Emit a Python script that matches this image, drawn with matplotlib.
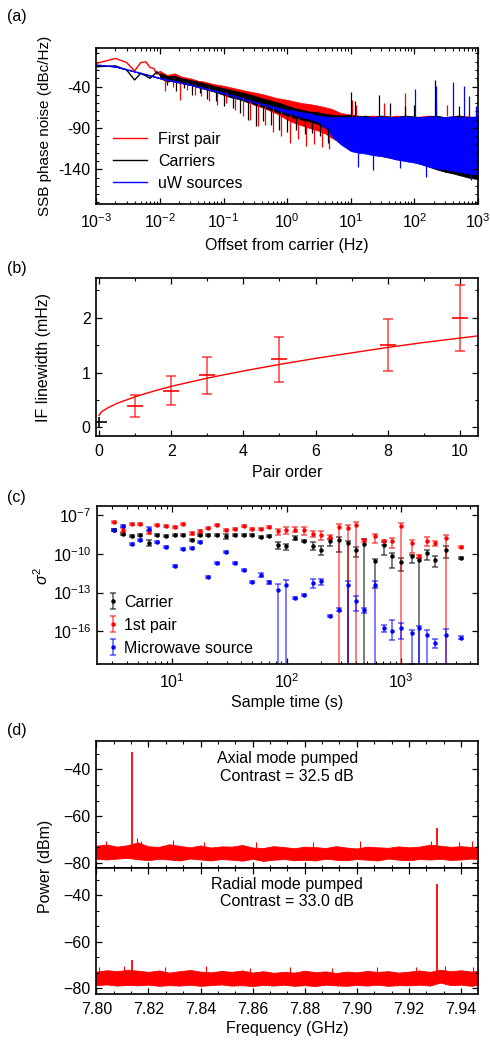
import numpy as np
import matplotlib
matplotlib.use("Agg")
import matplotlib.pyplot as plt
from matplotlib.ticker import AutoMinorLocator, MultipleLocator, NullLocator, LogLocator
from matplotlib.lines import Line2D

plt.rcParams['font.family'] = ['Liberation Sans', 'DejaVu Sans']
plt.rcParams['font.size'] = 11.5
plt.rcParams['mathtext.fontset'] = 'custom'
plt.rcParams['mathtext.rm'] = 'Liberation Sans'
plt.rcParams['mathtext.it'] = 'Liberation Sans:italic'
plt.rcParams['mathtext.bf'] = 'Liberation Sans:bold'
plt.rcParams['xtick.direction'] = 'in'
plt.rcParams['ytick.direction'] = 'in'
plt.rcParams['xtick.top'] = True
plt.rcParams['ytick.right'] = True
plt.rcParams['xtick.major.size'] = 4.5
plt.rcParams['ytick.major.size'] = 4.5
plt.rcParams['xtick.minor.size'] = 2.5
plt.rcParams['ytick.minor.size'] = 2.5
plt.rcParams['xtick.major.width'] = 0.9
plt.rcParams['ytick.major.width'] = 0.9
plt.rcParams['xtick.minor.width'] = 0.8
plt.rcParams['ytick.minor.width'] = 0.8
plt.rcParams['xtick.major.pad'] = 6
plt.rcParams['ytick.major.pad'] = 4
plt.rcParams['axes.linewidth'] = 1.2

# ---------------- (a) phase noise ----------------
lf_freq = [0.001, 0.002, 0.003, 0.004, 0.005, 0.006, 0.007, 0.008, 0.009, 0.010]
red_lf = [-12, -6, -11, -21, -11, -10, -17, -18, -25, -22]
black_lf = [-16, -15, -20, -32, -24, -27, -30, -26, -22, -26]

band_freq = [0.01, 0.013, 0.017, 0.022, 0.03, 0.04, 0.05, 0.07, 0.1, 0.13, 0.17, 0.22,
             0.3, 0.4, 0.5, 0.7, 1, 1.3, 1.7, 2.2, 3, 4, 5, 7, 10, 13, 17, 22,
             30, 40, 50, 70, 100, 130, 170, 220, 300, 400, 500, 700, 1000]
red_hi = [-21, -26, -24, -28, -30, -33, -34, -37, -39, -41, -43, -45,
          -47, -49, -51, -54, -56, -58, -60, -61, -63, -65, -67, -72, -74, -75, -76, -75,
          -76, -77, -75, -76, -77, -76, -75, -76, -77, -76, -75, -76, -77]
red_lo = [-30, -34, -33, -36, -37, -40, -41, -44, -47, -49, -52, -55,
          -62, -65, -68, -73, -80, -84, -87, -90, -93, -97, -102, -108, -114, -118, -120, -122,
          -124, -126, -127, -129, -131, -133, -135, -137, -139, -140, -141, -143, -144]
black_hi = [-24, -27, -27, -30, -32, -34, -36, -39, -42, -44, -46, -48,
            -51, -54, -56, -59, -63, -66, -68, -70, -71, -73, -74, -75, -74, -76, -75, -77,
            -75, -76, -77, -75, -76, -77, -76, -75, -77, -76, -75, -77, -76]
black_lo = [-30, -33, -34, -36, -38, -41, -43, -46, -50, -53, -55, -58,
            -61, -64, -67, -71, -75, -78, -80, -82, -85, -90, -98, -106, -112, -116, -118, -120,
            -122, -124, -126, -128, -131, -134, -137, -140, -143, -145, -147, -150, -152]

red_dip_f = [0.012, 0.016, 0.021, 0.027, 0.035, 0.045, 0.06, 0.08, 0.11, 0.15, 0.2,
             0.26, 0.35, 0.45, 0.6, 0.8, 1.1, 1.5, 2.0, 2.6, 3.5, 4.5]
red_dip_lo = [-45, -40, -56, -44, -50, -52, -58, -62, -60, -68, -76,
              -80, -88, -86, -95, -100, -108, -104, -112, -110, -113, -115]
red_dip_top = [-30, -32, -34, -35, -37, -39, -41, -44, -47, -50, -53,
               -56, -59, -62, -65, -69, -74, -78, -82, -86, -90, -95]
black_dip_f = [0.013, 0.018, 0.024, 0.032, 0.042, 0.055, 0.075, 0.1, 0.14, 0.18, 0.24,
               0.32, 0.42, 0.55, 0.75, 1.0, 1.4, 1.9, 2.5, 3.3, 4.4]
black_dip_lo = [-38, -45, -42, -50, -48, -55, -58, -64, -66, -72, -80,
                -88, -82, -86, -92, -95, -92, -97, -96, -100, -108]
black_dip_top = [-32, -34, -35, -38, -40, -43, -46, -50, -53, -55, -58,
                 -61, -64, -67, -71, -75, -78, -80, -82, -85, -90]

blue_freq = [0.001, 0.002, 0.004, 0.01, 0.03, 0.1, 0.3, 0.5, 0.7, 1, 1.3, 1.7,
             2.2, 3, 4, 5, 7, 10, 13, 17, 22, 30, 40, 50, 70, 100, 130, 170,
             220, 300, 400, 500, 700, 1000]
blue_hi = [-14, -16, -22, -30, -38, -48, -59, -63, -66, -69, -70, -72,
           -73, -76, -77, -78, -78, -78, -77, -78, -78, -77, -78, -78, -77, -78, -78, -77,
           -78, -78, -77, -78, -78, -77]
blue_lo = [-14, -16, -22, -30, -38, -48, -59, -64, -68, -72, -74, -77,
           -79, -82, -90, -100, -110, -118, -120, -121, -123, -124, -126, -128, -130, -132, -134, -137,
           -139, -140, -142, -143, -145, -146]

red_spk_f = [10.5, 12, 33, 70, 215, 330]
red_spk_top = [-56, -62, -60, -48, -56, -62]
black_spk_f = [10.2, 11.5, 28, 42, 70, 100, 212, 500]
black_spk_top = [-46, -58, -50, -60, -64, -62, -32, -64]
blue_spk_f = [104, 215, 403, 598, 735, 938]
blue_spk_top = [-43, -39, -35, -39, -52, -64]
blue_dip_f = [12.9, 22, 60, 155, 785]
blue_dip_lo = [-137, -141, -138, -149, -153]

# ---------------- (b) linewidth ----------------
pair_order = [1, 2, 3, 5, 8, 10]
if_lw = [0.40, 0.67, 0.95, 1.24, 1.50, 1.99]
if_err = [0.20, 0.26, 0.34, 0.41, 0.47, 0.60]
carrier_order = [0]
carrier_lw = [0.10]
carrier_err = [0.10]
fit_x = [0, 0.05, 0.1, 0.25, 0.5, 0.75, 1, 1.5, 2, 3, 4, 5, 6, 7, 8, 9, 10, 10.5]
fit_y = [0.22, 0.27, 0.30, 0.36, 0.44, 0.50, 0.56, 0.66, 0.75, 0.90, 1.03, 1.15,
         1.26, 1.36, 1.46, 1.55, 1.63, 1.67]

# ---------------- (c) Allan variance (log10 values) ----------------
tau = [3.11, 3.71, 4.45, 5.25, 6.21, 7.35, 8.81, 10.5, 12.3, 14.9, 17.6, 20.7, 24.5, 29.6,
       35.5, 42.0, 49.7, 59.5, 70.3, 83.7, 99.5, 119, 142, 169, 199, 237, 286, 342, 405,
       478, 589, 710, 839, 1000, 1256, 1436, 1677, 1982, 2488, 3365]
carrier_log = [-8.14, -8.45, -8.65, -8.55, -9.17, -8.55, -8.60, -8.57, -8.55, -8.96,
               -8.57, -8.57, -8.57, -8.65, -8.57, -8.52, -8.57, -8.73, -8.65, -9.30,
               -9.43, -8.78, -9.04, -9.38, -9.69, -9.04, -8.91, -9.20, -9.69, -9.22,
               -10.59, -9.30, -10.20, -10.67, -10.20, -10.46, -9.95, -10.51, -9.69, -10.33]
carrier_errs = {4: (-9.38, -8.91), 13: (-8.85, -8.45), 19: (-9.64, -9.12), 20: (-9.69, -9.22),
                21: (-8.96, -8.65), 23: (-9.69, -9.12), 24: (-10.08, -9.43), 25: (-9.38, -8.86),
                26: (-9.89, -8.71), 27: (-30, -9.0), 28: (-10.26, -9.48), 29: (-30, -8.86),
                30: (-12.66, -10.41), 31: (-10.08, -9.12), 32: (-11.1, -9.95), 33: (-11.36, -10.33),
                34: (-10.72, -10.08), 35: (-30, -10.33), 36: (-10.46, -9.69), 37: (-11.03, -10.15),
                38: (-10.33, -9.38)}
pair_log = [-7.57, -8.16, -7.70, -7.70, -8.32, -7.78, -7.85, -7.93, -7.70, -8.42,
            -8.26, -8.01, -7.75, -8.19, -8.06, -7.83, -8.06, -8.09, -7.95, -8.26,
            -8.14, -8.14, -8.19, -8.47, -8.53, -8.71, -7.93, -8.01, -7.75, -8.96,
            -8.65, -9.04, -9.04, -7.88, -9.17, -10.20, -9.04, -9.17, -8.78, -9.50]
pair_errs = {1: (-8.31, -8.01), 4: (-8.47, -8.17), 9: (-8.54, -8.30), 10: (-8.38, -8.14),
             19: (-8.53, -8.09), 20: (-8.45, -7.93), 21: (-8.35, -7.93), 22: (-8.53, -7.93),
             23: (-8.71, -8.27), 24: (-8.97, -8.27), 25: (-8.84, -8.58), 26: (-30, -7.67),
             27: (-30, -7.80), 28: (-30, -7.57), 29: (-9.12, -8.84), 30: (-9.20, -8.45),
             31: (-9.30, -8.91), 32: (-9.56, -8.78), 33: (-30, -7.62), 34: (-9.94, -8.91),
             35: (-10.33, -10.07), 36: (-9.43, -8.70), 37: (-9.43, -9.04), 38: (-30, -8.53)}
uw_log = [-8.15, -7.83, -9.27, -8.94, -8.11, -9.07, -9.46, -10.95, -9.66, -9.58,
          -9.07, -11.78, -10.74, -9.84, -10.74, -11.26, -12.17, -11.65, -12.22, -12.84,
          -12.40, -13.43, -13.22, -12.27, -12.14, -14.78, -14.34, -12.45, -13.64, -14.34,
          -12.40, -15.78, -15.94, -15.76, -16.15, -15.76, -16.28, -16.92, -16.28, -16.48]
uw_errs = {4: (-8.26, -7.96), 17: (-11.80, -11.50), 19: (-30, -12.37), 20: (-30, -12.0),
           23: (-12.66, -11.96), 24: (-12.40, -11.96), 26: (-14.46, -14.22), 27: (-30, -12.07),
           28: (-14.39, -13.30), 29: (-14.60, -14.16), 30: (-30, -12.10), 31: (-16.09, -15.50),
           32: (-16.67, -15.16), 33: (-16.60, -15.32), 34: (-18.5, -15.90), 35: (-30, -15.60),
           36: (-30, -15.90), 37: (-17.30, -16.60), 38: (-30, -15.80)}

# ---------------- (d) spectra ----------------
floor_freq = [7.800, 7.804, 7.808, 7.812, 7.816, 7.820, 7.824, 7.828, 7.832, 7.836,
              7.840, 7.844, 7.848, 7.852, 7.856, 7.860, 7.864, 7.868, 7.872, 7.876,
              7.880, 7.884, 7.888, 7.892, 7.896, 7.900, 7.904, 7.908, 7.912, 7.916,
              7.920, 7.924, 7.928, 7.932, 7.936, 7.940, 7.944, 7.9465]
axial_hi = [-72.6, -72.1, -73.0, -72.4, -71.2, -72.9, -73.1, -72.0, -72.7, -73.3,
            -72.5, -73.4, -72.9, -73.0, -72.3, -73.4, -73.6, -72.8, -73.2, -73.7,
            -73.0, -73.2, -73.6, -72.8, -73.4, -73.8, -73.0, -73.3, -73.5, -72.9,
            -73.3, -73.0, -72.2, -72.6, -73.1, -72.8, -73.2, -72.9]
axial_lo = [-78.2, -78.5, -78.1, -77.8, -78.4, -78.8, -78.2, -78.5, -78.9, -78.1,
            -78.5, -78.9, -78.3, -78.6, -79.0, -78.2, -79.1, -78.6, -78.3, -78.8,
            -78.6, -78.9, -78.2, -78.6, -78.8, -78.3, -78.6, -78.9, -78.1, -78.6,
            -78.8, -78.3, -78.5, -78.2, -78.7, -78.5, -78.1, -78.4]
radial_hi = [-72.8, -72.2, -72.6, -72.0, -72.4, -72.9, -72.3, -73.2, -72.6, -72.1,
             -72.8, -73.1, -72.5, -72.9, -72.3, -73.2, -72.6, -73.3, -72.9, -73.2,
             -72.4, -73.0, -72.7, -73.4, -72.8, -73.1, -72.5, -72.9, -72.6, -73.2,
             -72.8, -72.3, -72.9, -72.0, -72.6, -72.2, -72.8, -72.4]
radial_lo = [-78.6, -78.3, -78.8, -78.5, -78.7, -78.4, -78.9, -78.6, -78.8, -78.4,
             -78.9, -78.6, -78.3, -78.8, -78.6, -79.0, -78.5, -78.8, -78.4, -78.9,
             -78.6, -79.0, -78.4, -78.7, -78.9, -78.5, -78.8, -78.4, -78.9, -78.6,
             -78.7, -78.4, -78.8, -77.5, -78.6, -78.4, -78.9, -78.5]
axial_spk_f = [7.8038, 7.8155, 7.8172, 7.8295, 7.8415, 7.8612, 7.8833, 7.9012, 7.9285, 7.9393, 7.9441]
axial_spk_p = [-70.5, -69.5, -70.8, -70.2, -71.0, -71.2, -71.0, -70.8, -70.6, -71.0, -70.5]
radial_spk_f = [7.8012, 7.8105, 7.8265, 7.8420, 7.8588, 7.8745, 7.8906, 7.9077, 7.9226, 7.9338, 7.9447]
radial_spk_p = [-70.8, -70.5, -71.0, -70.2, -71.1, -70.9, -71.2, -70.6, -71.0, -70.4, -70.8]
axial_peak_f = [7.8136, 7.9307]
axial_peak_p = [-32.5, -65.0]
radial_peak_f = [7.8136, 7.9308]
radial_peak_p = [-68.0, -35.0]

W, H = 490, 1042
fig = plt.figure(figsize=(W / 100, H / 100), dpi=100)


def box(l, r, t, b):
    return [l / W, 1 - b / H, (r - l) / W, (b - t) / H]


# (a)
ax = fig.add_axes(box(96.3, 478, 47.7, 204))
ax.set_xscale('log')
ax.fill_between(band_freq, red_lo, red_hi, color='red', lw=0.5)
ax.plot(lf_freq, red_lf, color='red', lw=1)
ax.vlines(red_dip_f, red_dip_lo, red_dip_top, color='red', lw=0.9)
ax.vlines(red_spk_f, -76, red_spk_top, color='red', lw=0.9)
ax.fill_between(band_freq, black_lo, black_hi, color='black', lw=0.5)
ax.plot(lf_freq, black_lf, color='black', lw=1)
ax.vlines(black_dip_f, black_dip_lo, black_dip_top, color='black', lw=0.9)
ax.vlines(black_spk_f, -76, black_spk_top, color='black', lw=0.9)
ax.fill_between(blue_freq, blue_lo, blue_hi, color='blue', lw=0.5)
ax.plot(blue_freq, blue_hi, color='blue', lw=1)
ax.vlines(blue_spk_f, -78, blue_spk_top, color='blue', lw=0.9)
ax.vlines(blue_dip_f, blue_dip_lo, -120, color='blue', lw=0.9)
ax.set_xlim(1e-3, 1e3)
ax.set_ylim(-182, 7)
ax.set_yticks([-140, -90, -40])
ax.set_yticklabels(['-140', '-90', '-40'])
ax.yaxis.set_minor_locator(MultipleLocator(10))
ax.xaxis.set_major_locator(LogLocator(base=10, numticks=10))
ax.xaxis.set_minor_locator(LogLocator(base=10, subs=np.arange(2, 10), numticks=20))
ax.set_xlabel('Offset from carrier (Hz)', labelpad=5)
ax.set_ylabel('SSB phase noise (dBc/Hz)', fontsize=11)
ax.yaxis.set_label_coords(-0.115, 0.5)
handles = [Line2D([], [], color='red', lw=1), Line2D([], [], color='black', lw=1),
           Line2D([], [], color='blue', lw=1)]
ax.legend(handles, ['First pair', 'Carriers', 'uW sources'], loc='lower left',
          bbox_to_anchor=(0.006, -0.008), frameon=False, handlelength=2.1,
          handletextpad=0.75, labelspacing=0.45)

# (b)
ax = fig.add_axes(box(96.3, 478, 278.3, 435.7))
ax.plot(fit_x, fit_y, color='red', lw=1)
ax.errorbar(pair_order, if_lw, yerr=if_err, fmt='_', color='red', ms=12, mew=1.2,
            ecolor=(1, 0, 0, 0.7), elinewidth=1.2, capsize=3.5, capthick=1.2)
ax.errorbar(carrier_order, carrier_lw, yerr=carrier_err, fmt='_', color='black', ms=12,
            mew=1.2, ecolor='black', elinewidth=1.2, capsize=0)
ax.set_xlim(-0.075, 10.5)
ax.set_ylim(-0.15, 2.72)
ax.xaxis.set_major_locator(MultipleLocator(2))
ax.xaxis.set_minor_locator(MultipleLocator(1))
ax.yaxis.set_major_locator(MultipleLocator(1))
ax.yaxis.set_minor_locator(MultipleLocator(0.5))
ax.set_xlabel('Pair order', labelpad=4)
ax.set_ylabel('IF linewidth (mHz)')
ax.yaxis.set_label_coords(-0.119, 0.5)

# (c)
ax = fig.add_axes(box(97, 478, 506, 664))
ax.set_xscale('log')
ax.set_yscale('log')
series = [(carrier_log, carrier_errs, 'black', 'Carrier'),
          (pair_log, pair_errs, 'red', '1st pair'),
          (uw_log, uw_errs, 'blue', 'Microwave source')]
for vals, errs, col, lab in series:
    y = 10.0 ** np.array(vals)
    lo = np.array([errs.get(i, (v - 0.08, v + 0.08))[0] for i, v in enumerate(vals)])
    hi = np.array([errs.get(i, (v - 0.08, v + 0.08))[1] for i, v in enumerate(vals)])
    yerr = [y - 10.0 ** lo, 10.0 ** hi - y]
    ec = matplotlib.colors.to_rgba(col, 0.65)
    ax.errorbar(tau, y, yerr=yerr, fmt='o', ms=2.2, color=col, ecolor=ec,
                elinewidth=1.1, capsize=2, capthick=1.1, label=lab)
ax.set_xlim(2.2, 4700)
ax.set_ylim(10 ** -18.53, 10 ** -6.3)
ax.set_yticks([1e-16, 1e-13, 1e-10, 1e-7])
ax.set_yticklabels([r'$10^{-16}$', r'$10^{-13}$', r'$10^{-10}$', r'$10^{-7}$'])
ax.yaxis.set_minor_locator(NullLocator())
ax.xaxis.set_minor_locator(LogLocator(base=10, subs=np.arange(2, 10), numticks=20))
ax.set_xlabel('Sample time (s)', labelpad=3)
ax.set_ylabel(r'$\sigma^2$')
ax.yaxis.set_label_coords(-0.12, 0.56)
ax.legend(loc='lower left', bbox_to_anchor=(-0.016, -0.038), frameon=False, handlelength=1.0,
          handletextpad=0.2, labelspacing=0.5)

# (d)
axd1 = fig.add_axes(box(96.3, 478, 740.7, 867.7))
axd2 = fig.add_axes(box(96.3, 478, 867.7, 994))
for a, lo, hi, sf, sp, pf, pp in [
        (axd1, axial_lo, axial_hi, axial_spk_f, axial_spk_p, axial_peak_f, axial_peak_p),
        (axd2, radial_lo, radial_hi, radial_spk_f, radial_spk_p, radial_peak_f, radial_peak_p)]:
    a.fill_between(floor_freq, lo, hi, color='red', lw=0.6)
    a.vlines(sf, -74, sp, color='red', lw=0.8)
    a.vlines(pf, -77, pp, color='red', lw=1.3)
    a.set_xlim(7.80, 7.9465)
    a.xaxis.set_major_locator(MultipleLocator(0.02))
    a.xaxis.set_minor_locator(AutoMinorLocator(3))
    a.yaxis.set_major_locator(MultipleLocator(20))
    a.yaxis.set_minor_locator(AutoMinorLocator(3))
axd1.set_ylim(-82, -27.8)
axd2.set_ylim(-82.4, -28.2)
axd1.tick_params(labelbottom=False)
axd2.xaxis.set_major_formatter(matplotlib.ticker.FormatStrFormatter('%.2f'))
axd1.text(0.5, 0.79, 'Axial mode pumped\nContrast = 32.5 dB', transform=axd1.transAxes,
          ha='center', va='center', linespacing=1.2)
axd2.text(0.5, 0.80, 'Radial mode pumped\nContrast = 33.0 dB', transform=axd2.transAxes,
          ha='center', va='center', linespacing=1.2)
axd2.set_xlabel('Frequency (GHz)', labelpad=3)
fig.text(45 / W, 1 - 866.7 / H, 'Power (dBm)', rotation=90, ha='center', va='center')

# panel letters
for lab, yy in [('(a)', 17), ('(b)', 268), ('(c)', 498), ('(d)', 730)]:
    fig.text(7 / W, 1 - yy / H, lab, ha='left', va='center')

fig.savefig('out.png', dpi=100)
